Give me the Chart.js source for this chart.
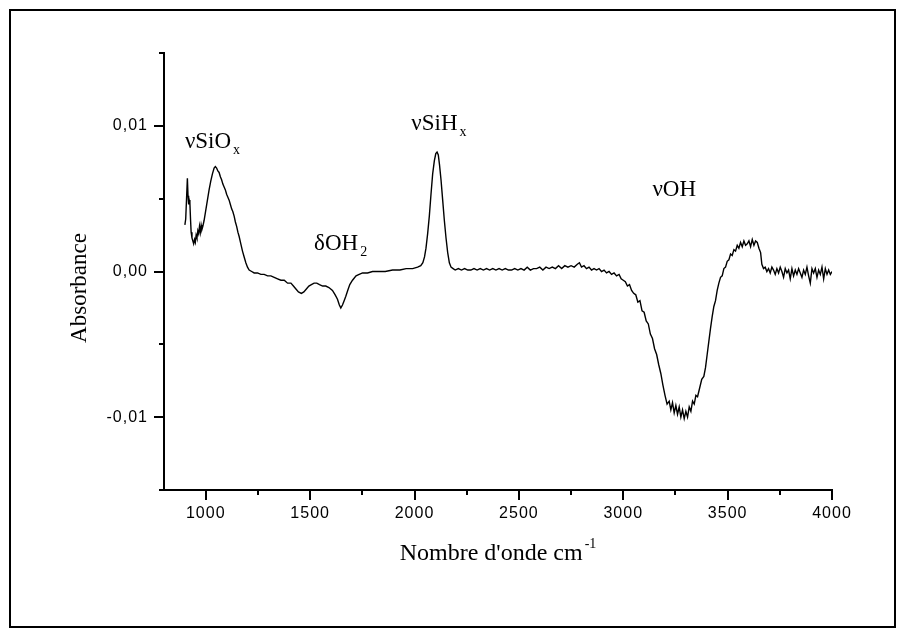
<!DOCTYPE html>
<html>
<head>
<meta charset="utf-8">
<script src="https://cdn.jsdelivr.net/npm/chart.js@4.4.1/dist/chart.umd.min.js"></script>
<style>
  body { margin: 0; background: #fff; }
  canvas { display: block; }
</style>
</head>
<body>
<canvas id="spectre" width="904" height="631"></canvas>
<script>
// nombre d'onde (cm-1)
const wavenumber = [
  900, 904, 908, 912, 915, 918, 921, 924, 927, 930, 934, 938, 942, 946, 950, 954, 958, 962, 966, 970,
  974, 978, 982, 986, 992, 1000, 1008, 1016, 1024, 1032, 1040, 1046, 1052, 1058, 1064, 1070, 1076, 1082, 1088, 1094,
  1100, 1106, 1112, 1118, 1124, 1130, 1136, 1142, 1148, 1154, 1160, 1168, 1176, 1184, 1192, 1200, 1208, 1220, 1232, 1248,
  1264, 1280, 1296, 1312, 1328, 1344, 1360, 1376, 1392, 1408, 1420, 1432, 1444, 1458, 1470, 1482, 1494, 1506, 1519, 1532,
  1545, 1560, 1575, 1590, 1607, 1620, 1631, 1640, 1647, 1655, 1663, 1671, 1680, 1690, 1703, 1720, 1735, 1751, 1775, 1799,
  1830, 1860, 1895, 1930, 1960, 1991, 2015, 2030, 2040, 2048, 2055, 2063, 2071, 2079, 2087, 2095, 2102, 2108, 2114, 2120,
  2127, 2135, 2143, 2151, 2159, 2167, 2175, 2185, 2195, 2210, 2225, 2240, 2255, 2270, 2285, 2300, 2315, 2330, 2345, 2360,
  2375, 2390, 2405, 2420, 2435, 2450, 2465, 2480, 2495, 2510, 2525, 2540, 2555, 2570, 2585, 2600, 2615, 2630, 2645, 2660,
  2675, 2690, 2705, 2720, 2735, 2750, 2765, 2780, 2790, 2800, 2812, 2824, 2836, 2848, 2860, 2872, 2884, 2896, 2908, 2920,
  2932, 2944, 2956, 2968, 2980, 2990, 3000, 3010, 3020, 3030, 3040, 3050, 3060, 3070, 3080, 3090, 3100, 3110, 3120, 3130,
  3140, 3150, 3160, 3170, 3180, 3190, 3200, 3210, 3220, 3228, 3236, 3244, 3252, 3260, 3268, 3276, 3284, 3292, 3300, 3308,
  3316, 3324, 3332, 3340, 3348, 3356, 3366, 3376, 3386, 3394, 3402, 3410, 3418, 3426, 3434, 3442, 3450, 3458, 3466, 3474,
  3482, 3490, 3498, 3506, 3514, 3522, 3530, 3538, 3546, 3554, 3562, 3570, 3578, 3586, 3594, 3602, 3610, 3618, 3626, 3634,
  3642, 3650, 3658, 3664, 3672, 3680, 3688, 3696, 3704, 3712, 3720, 3728, 3736, 3744, 3752, 3760, 3768, 3776, 3784, 3792,
  3800, 3808, 3816, 3824, 3832, 3840, 3848, 3856, 3864, 3872, 3880, 3888, 3896, 3904, 3912, 3920, 3928, 3936, 3944, 3952,
  3960, 3968, 3976, 3984, 3992, 4000
];

const absorbance = [
  0.0032, 0.0036, 0.0050, 0.0064, 0.0052, 0.0046, 0.0049, 0.0047, 0.0036, 0.0027, 0.0023, 0.0021, 0.0019, 0.0022, 0.0020, 0.0025, 0.0023, 0.0028, 0.0026, 0.0031,
  0.0027, 0.0032, 0.0029, 0.0031, 0.0035, 0.0042, 0.0049, 0.0056, 0.0062, 0.0067, 0.0071, 0.0072, 0.0071, 0.0069, 0.0068, 0.0065, 0.0063, 0.0060, 0.0058, 0.0056,
  0.0053, 0.0051, 0.0049, 0.0046, 0.0043, 0.0041, 0.0038, 0.0034, 0.0031, 0.0027, 0.0024, 0.0019, 0.0014, 0.0010, 0.0006, 0.0003, 0.0001, 0.0000, -0.0001, -0.0001,
  -0.0002, -0.0002, -0.0003, -0.0003, -0.0004, -0.0005, -0.0006, -0.0006, -0.0008, -0.0008, -0.0010, -0.0012, -0.0014, -0.0015, -0.0014, -0.0012, -0.0010, -0.0009, -0.0008, -0.0008,
  -0.0009, -0.0010, -0.0010, -0.0011, -0.0013, -0.0016, -0.0019, -0.0023, -0.0025, -0.0023, -0.0020, -0.0017, -0.0013, -0.0009, -0.0006, -0.0003, -0.0002, -0.0001, -0.0001, 0.0000,
  0.0000, 0.0000, 0.0001, 0.0001, 0.0002, 0.0002, 0.0003, 0.0004, 0.0006, 0.0010, 0.0016, 0.0026, 0.0038, 0.0053, 0.0067, 0.0076, 0.0081, 0.0082, 0.0080, 0.0073,
  0.0063, 0.0049, 0.0035, 0.0023, 0.0013, 0.0006, 0.0003, 0.0002, 0.0001, 0.0002, 0.0001, 0.0002, 0.0001, 0.0001, 0.0002, 0.0001, 0.0002, 0.0001, 0.0002, 0.0001,
  0.0002, 0.0001, 0.0002, 0.0001, 0.0002, 0.0001, 0.0001, 0.0002, 0.0001, 0.0002, 0.0001, 0.0003, 0.0001, 0.0002, 0.0002, 0.0003, 0.0001, 0.0003, 0.0002, 0.0003,
  0.0002, 0.0004, 0.0002, 0.0004, 0.0003, 0.0004, 0.0003, 0.0005, 0.0006, 0.0003, 0.0004, 0.0002, 0.0003, 0.0001, 0.0002, 0.0001, 0.0002, 0.0000, 0.0001, -0.0001,
  0.0000, -0.0002, -0.0001, -0.0003, -0.0002, -0.0005, -0.0006, -0.0007, -0.0010, -0.0009, -0.0013, -0.0015, -0.0016, -0.0021, -0.0020, -0.0027, -0.0028, -0.0034, -0.0036, -0.0043,
  -0.0046, -0.0053, -0.0057, -0.0064, -0.0070, -0.0078, -0.0085, -0.0091, -0.0089, -0.0095, -0.0090, -0.0097, -0.0092, -0.0098, -0.0093, -0.0100, -0.0095, -0.0101, -0.0096, -0.0100,
  -0.0093, -0.0096, -0.0089, -0.0091, -0.0085, -0.0086, -0.0080, -0.0074, -0.0072, -0.0066, -0.0057, -0.0048, -0.0039, -0.0031, -0.0024, -0.0020, -0.0013, -0.0008, -0.0004, -0.0003,
  0.0002, 0.0003, 0.0007, 0.0008, 0.0012, 0.0011, 0.0015, 0.0014, 0.0018, 0.0016, 0.0020, 0.0017, 0.0021, 0.0018, 0.0019, 0.0021, 0.0017, 0.0022, 0.0018, 0.0021,
  0.0020, 0.0016, 0.0013, 0.0005, 0.0002, 0.0003, 0.0000, 0.0002, -0.0001, 0.0003, 0.0001, -0.0002, 0.0002, -0.0001, 0.0003, 0.0000, -0.0004, 0.0002, -0.0001, 0.0001,
  -0.0005, 0.0002, -0.0003, 0.0001, -0.0002, 0.0002, -0.0001, -0.0004, 0.0001, -0.0002, 0.0003, -0.0003, -0.0008, 0.0002, -0.0001, 0.0002, -0.0004, 0.0001, -0.0002, 0.0003,
  -0.0005, 0.0002, -0.0002, 0.0001, -0.0002, 0.0000
];

// graduations
const xMajorTicks = [1000, 1500, 2000, 2500, 3000, 3500, 4000];
const xMinorTicks = [1250, 1750, 2250, 2750, 3250, 3750];
const yMajorTicks = [-0.01, 0, 0.01];
const yMinorTicks = [-0.015, -0.005, 0.005, 0.015];

// bandes annotées : texte, indice, position (nombre d'onde, absorbance)
const bandLabels = [
  { text: 'νSiO', sub: 'x', x: 900, y: 0.0085 },
  { text: 'δOH', sub: '2', x: 1519, y: 0.0015 },
  { text: 'νSiH', sub: 'x', x: 1985, y: 0.0097 },
  { text: 'νOH', sub: '', x: 3140, y: 0.0052 }
];

const points = wavenumber.map((w, i) => ({ x: w, y: absorbance[i] }));

const isMajorY = v => yMajorTicks.some(m => Math.abs(m - v) < 1e-9);

const decor = {
  id: 'decor',
  beforeDraw(chart) {
    // chiffres des axes un peu espacés
    chart.ctx.letterSpacing = '1px';
  },
  beforeDatasetsDraw(chart) {
    chart.ctx.letterSpacing = '0px';
  },
  afterDraw(chart) {
    const ctx = chart.ctx;
    const xs = chart.scales.x, ys = chart.scales.y;
    ctx.save();
    ctx.letterSpacing = '0px';
    ctx.strokeStyle = '#000';
    ctx.fillStyle = '#000';
    ctx.lineWidth = 2;

    // graduations vers l'extérieur
    ctx.beginPath();
    xs.ticks.forEach(t => {
      const px = Math.round(xs.getPixelForValue(t.value));
      const len = xMajorTicks.includes(t.value) ? 10 : 5;
      ctx.moveTo(px, xs.top);
      ctx.lineTo(px, xs.top + len);
    });
    ys.ticks.forEach(t => {
      const py = Math.round(ys.getPixelForValue(t.value));
      const len = isMajorY(t.value) ? 10 : 5;
      ctx.moveTo(ys.right, py);
      ctx.lineTo(ys.right - len, py);
    });
    ctx.stroke();

    // cadre
    ctx.strokeRect(10, 10, 885, 617);

    // titre axe x avec exposant
    ctx.font = '24px "Liberation Serif", "Times New Roman", serif';
    const main = "Nombre d'onde cm";
    const w1 = ctx.measureText(main).width;
    ctx.font = '14px "Liberation Serif", "Times New Roman", serif';
    const w2 = ctx.measureText('-1').width;
    const x0 = (xs.left + xs.right) / 2 - (w1 + w2 + 2) / 2;
    ctx.textBaseline = 'alphabetic';
    ctx.textAlign = 'left';
    ctx.font = '24px "Liberation Serif", "Times New Roman", serif';
    ctx.fillText(main, x0, 560);
    ctx.font = '14px "Liberation Serif", "Times New Roman", serif';
    ctx.fillText('-1', x0 + w1 + 2, 548);

    // titre axe y
    ctx.save();
    ctx.translate(86, 288);
    ctx.rotate(-Math.PI / 2);
    ctx.textAlign = 'center';
    ctx.font = '23px "Liberation Serif", "Times New Roman", serif';
    ctx.fillText('Absorbance', 0, 0);
    ctx.restore();

    // noms des bandes
    bandLabels.forEach(l => {
      const px = xs.getPixelForValue(l.x);
      const py = ys.getPixelForValue(l.y);
      ctx.font = '23px "Liberation Serif", "Times New Roman", serif';
      ctx.fillText(l.text, px, py);
      const w = ctx.measureText(l.text).width;
      if (l.sub) {
        ctx.font = '14px "Liberation Serif", "Times New Roman", serif';
        ctx.fillText(l.sub, px + w + 2, py + 6);
      }
    });
    ctx.restore();
  }
};

new Chart(document.getElementById('spectre'), {
  type: 'line',
  data: {
    datasets: [{
      data: points,
      borderColor: '#000',
      borderWidth: 1.4,
      pointRadius: 0,
      tension: 0,
      fill: false
    }]
  },
  options: {
    responsive: false,
    animation: false,
    events: [],
    layout: { padding: { top: 53, right: 72, left: 0, bottom: 0 } },
    plugins: {
      legend: { display: false },
      tooltip: { enabled: false }
    },
    scales: {
      x: {
        type: 'linear',
        min: 800,
        max: 4000,
        afterBuildTicks: s => {
          s.ticks = xMajorTicks.concat(xMinorTicks).sort((a, b) => a - b).map(v => ({ value: v }));
        },
        afterFit: s => { s.height = 141; },
        grid: { display: false, drawTicks: false },
        border: { display: true, color: '#000', width: 2 },
        ticks: {
          padding: 14,
          maxRotation: 0,
          autoSkip: false,
          color: '#000',
          font: { family: '"Liberation Sans", Arial, sans-serif', size: 16 },
          callback: v => xMajorTicks.includes(v) ? String(v) : ''
        }
      },
      y: {
        type: 'linear',
        min: -0.015,
        max: 0.015,
        afterBuildTicks: s => {
          s.ticks = yMajorTicks.concat(yMinorTicks).sort((a, b) => a - b).map(v => ({ value: v }));
        },
        afterFit: s => { s.width = 164; },
        grid: { display: false, drawTicks: false },
        border: { display: true, color: '#000', width: 2 },
        ticks: {
          padding: 16,
          autoSkip: false,
          color: '#000',
          font: { family: '"Liberation Sans", Arial, sans-serif', size: 16 },
          callback: v => isMajorY(v) ? v.toFixed(2).replace('.', ',') : ''
        }
      }
    }
  },
  plugins: [decor]
});
</script>
</body>
</html>
